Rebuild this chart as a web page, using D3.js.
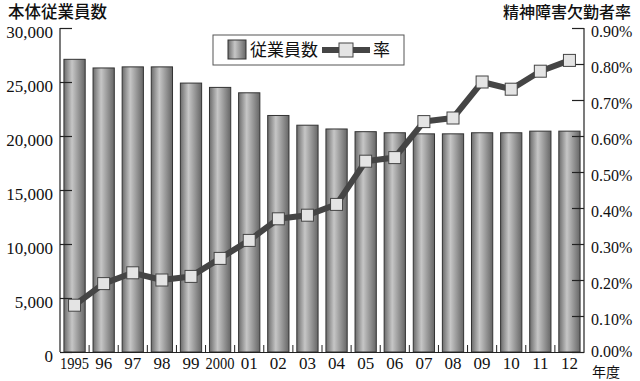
<!DOCTYPE html>
<html><head><meta charset="utf-8">
<script src="https://cdn.jsdelivr.net/npm/d3@7"></script>
<style>html,body{margin:0;padding:0;background:#fff;}</style>
</head><body>
<svg id="c" width="640" height="381"></svg>
<script>
const years = ["1995","96","97","98","99","2000","01","02","03","04","05","06","07","08","09","10","11","12"];
const employees = [27100,26300,26400,26400,24900,24500,24000,21900,21000,20650,20400,20300,20200,20200,20300,20300,20450,20450];
const rates = [0.13,0.19,0.22,0.20,0.21,0.26,0.31,0.37,0.38,0.41,0.53,0.54,0.64,0.65,0.75,0.73,0.78,0.81];
const leftTicks = [0,5000,10000,15000,20000,25000,30000];
const rightTicks = [0,0.1,0.2,0.3,0.4,0.5,0.6,0.7,0.8,0.9];
const leftTitle = "本体従業員数";
const rightTitle = "精神障害欠勤者率";
const xTitle = "年度";
const legendLabels = ["従業員数","率"];

const svg = d3.select("#c");
const L = 60, R = 584, T = 28, B = 352;
const x = d3.scaleBand().domain(years).range([L, R]).paddingInner(0.27).paddingOuter(0.135);
const yL = d3.scaleLinear().domain([0, 30000]).range([B, T]);
const yR = d3.scaleLinear().domain([0, 0.9]).range([B, T]);

const defs = svg.append("defs");
const g = defs.append("linearGradient").attr("id","barg").attr("x1","0").attr("x2","1").attr("y1","0").attr("y2","0");
g.append("stop").attr("offset","0%").attr("stop-color","#6c6c6c");
g.append("stop").attr("offset","38%").attr("stop-color","#c6c6c6");
g.append("stop").attr("offset","100%").attr("stop-color","#666");

// bars
svg.append("g").selectAll("rect").data(years).join("rect")
  .attr("x", d => x(d)).attr("width", x.bandwidth())
  .attr("y", (d,i) => yL(employees[i])).attr("height", (d,i) => B - yL(employees[i]))
  .attr("fill","url(#barg)").attr("stroke","#333").attr("stroke-width",1);

// axes
const serif = "'Liberation Serif', 'DejaVu Serif', serif";
const cjk = "'Noto Sans CJK JP', sans-serif";
const leftAxis = d3.axisLeft(yL).tickValues(leftTicks).tickSize(-12).tickPadding(7).tickFormat(d3.format(","));
const la = svg.append("g").attr("transform",`translate(${L},0)`).call(leftAxis);
const rightAxis = d3.axisRight(yR).tickValues(rightTicks).tickSize(-12).tickPadding(7).tickFormat(d => d3.format(".2f")(d) + "%");
const ra = svg.append("g").attr("transform",`translate(${R},0)`).call(rightAxis);
[la, ra].forEach(a => {
  a.selectAll(".tick line").attr("stroke","#222").attr("stroke-width",1.2);
  a.selectAll(".tick text").attr("font-family", serif).attr("fill","#111").attr("dy","0.95em").attr("y", -7);
});
la.selectAll(".tick text").attr("font-size", 17);
ra.selectAll(".tick text").attr("font-size", 16).attr("y", d => d === 0 ? -11 : -7);
la.select(".domain").remove(); ra.select(".domain").remove();
svg.append("line").attr("x1",L).attr("x2",L).attr("y1",T).attr("y2",B).attr("stroke","#222").attr("stroke-width",1.2);
svg.append("line").attr("x1",R).attr("x2",R).attr("y1",T).attr("y2",B).attr("stroke","#222").attr("stroke-width",1.2);

// bottom axis
const bottomAxis = d3.axisBottom(x).tickSize(0).tickPadding(5);
const ba = svg.append("g").attr("transform",`translate(0,${B})`).call(bottomAxis);
ba.select(".domain").attr("stroke","#222").attr("stroke-width",1.2);
ba.selectAll(".tick text").attr("font-family", serif).attr("font-size",17).attr("fill","#111")
  .each(function(d){ if (d.length === 4) d3.select(this).attr("textLength", 29).attr("lengthAdjust","spacingAndGlyphs"); });
// separators between bands
svg.append("g").selectAll("line").data(years.slice(1)).join("line")
  .attr("x1", d => x(d) - x.step()*x.paddingInner()/2).attr("x2", d => x(d) - x.step()*x.paddingInner()/2)
  .attr("y1", B).attr("y2", B-7).attr("stroke","#222").attr("stroke-width",1);

// line
const cx = (d) => x(d) + x.bandwidth()/2;
const line = d3.line().x((d,i) => cx(years[i])).y(d => yR(d));
svg.append("path").datum(rates).attr("d", line).attr("fill","none").attr("stroke","#454545").attr("stroke-width",6).attr("stroke-linejoin","round");
const ms = 12;
svg.append("g").selectAll("rect").data(rates).join("rect")
  .attr("x",(d,i) => cx(years[i]) - ms/2).attr("y", d => yR(d) - ms/2).attr("width",ms).attr("height",ms)
  .attr("fill","#e4e4e4").attr("stroke","#444").attr("stroke-width",1);

// titles
svg.append("text").attr("x",8).attr("y",18).attr("font-family",cjk).attr("font-size",16.5).attr("font-weight",500).attr("fill","#111").text(leftTitle);
svg.append("text").attr("x",631).attr("y",18).attr("text-anchor","end").attr("font-family",cjk).attr("font-size",16).attr("font-weight",500).attr("fill","#111").text(rightTitle);
svg.append("text").attr("x",592).attr("y",376.5).attr("font-family",cjk).attr("font-size",14).attr("fill","#111").text(xTitle);

// legend
const lg = svg.append("g");
lg.append("rect").attr("x",213).attr("y",35).attr("width",191).attr("height",30).attr("fill","#fff").attr("stroke","#555").attr("stroke-width",1);
lg.append("rect").attr("x",228).attr("y",40).attr("width",18).attr("height",19).attr("fill","url(#barg)").attr("stroke","#333");
lg.append("text").attr("x",250).attr("y",56).attr("font-family",cjk).attr("font-size",17).attr("fill","#111").text(legendLabels[0]);
lg.append("line").attr("x1",322).attr("x2",370).attr("y1",50).attr("y2",50).attr("stroke","#454545").attr("stroke-width",6);
lg.append("rect").attr("x",339).attr("y",43).attr("width",14).attr("height",14).attr("fill","#e4e4e4").attr("stroke","#444");
lg.append("text").attr("x",373).attr("y",56).attr("font-family",cjk).attr("font-size",17).attr("fill","#111").text(legendLabels[1]);
</script>
</body></html>
